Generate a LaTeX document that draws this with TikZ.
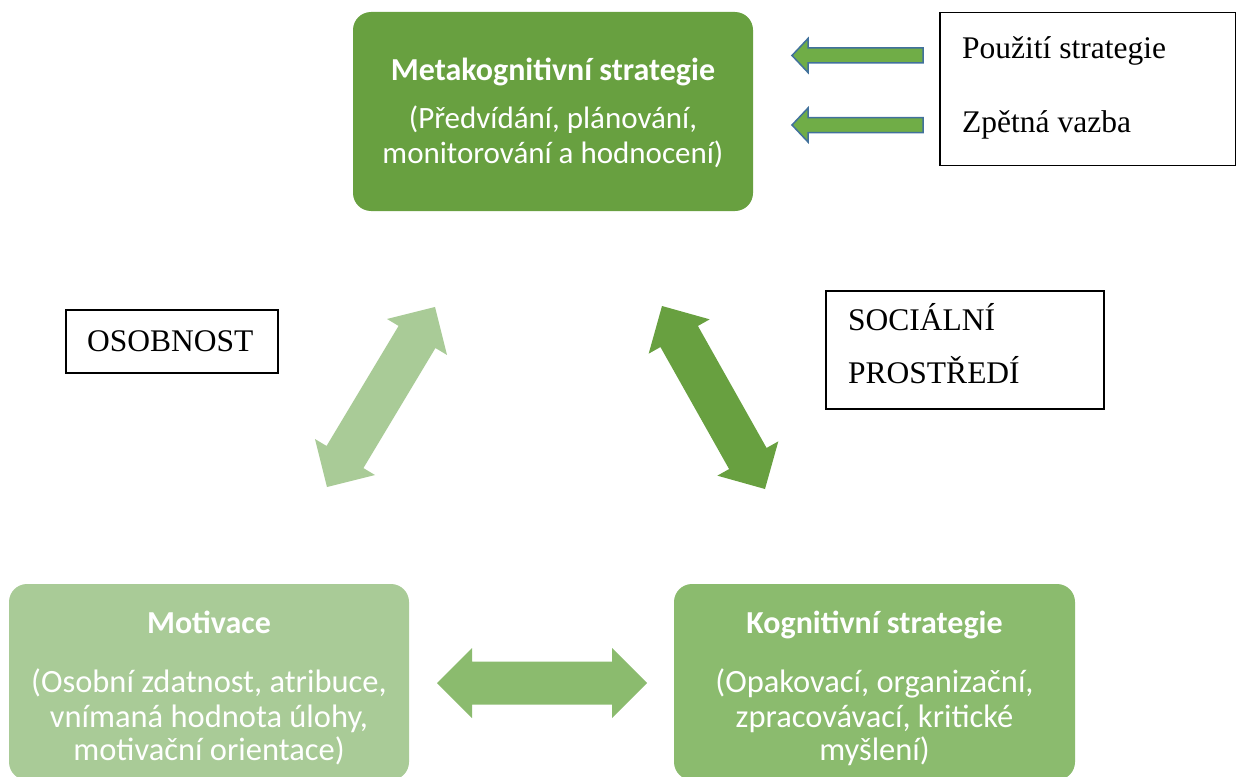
\documentclass[tikz,border=0pt]{standalone}
\usepackage{fontspec}
\setmainfont{Liberation Serif}
\newfontfamily\calibri{Carlito}
\definecolor{metagreen}{HTML}{68A040}
\definecolor{kogngreen}{HTML}{8BBB6E}
\definecolor{motivgreen}{HTML}{A9CB97}
\definecolor{smallfill}{HTML}{70AD47}
\definecolor{smalledge}{HTML}{41719C}
\tikzset{
  gbox/.style={rectangle, rounded corners=18pt, draw=none, inner sep=0pt},
  wtitle/.style={anchor=base, inner sep=0pt, text=white, font=\calibri\bfseries\fontsize{32}{36}\selectfont},
  wline/.style={anchor=base, inner sep=0pt, text=white, font=\calibri\fontsize{32.5}{36}\selectfont},
  wlinetop/.style={wline, font=\calibri\fontsize{31}{36}\selectfont},
  tbox/.style={rectangle, draw=black, line width=1.3pt, inner sep=0pt},
  tline/.style={anchor=base west, inner sep=0pt, font=\fontsize{31.5}{36}\selectfont},
}
% double block arrow centred at #1, turned by #2 degrees, filled with #3
\newcommand\dblblock[3]{%
  \begin{scope}[shift={(#1)}, rotate=#2]
    \fill[#3] (-105,0) -- (-70,35) -- (-70,21.5) -- (70,21.5) -- (70,35)
      -- (105,0) -- (70,-35) -- (70,-21.5) -- (-70,-21.5) -- (-70,-35) -- cycle;
  \end{scope}}
% small left-pointing block arrow with its tip at #1
\newcommand\leftblock[1]{%
  \begin{scope}[shift={(#1)}]
    \draw[fill=smallfill, draw=smalledge, line width=1.5pt, line join=miter]
      (0,0) -- (16,-17) -- (16,-7.5) -- (131,-7.5) -- (131,7.5) -- (16,7.5) -- (16,17) -- cycle;
  \end{scope}}
\begin{document}
\begin{tikzpicture}[x=1pt,y=-1pt]
\path[use as bounding box] (0,0) rectangle (1236,776);
\clip (0,0) rectangle (1236,776);

% three strategy boxes
\node[gbox, fill=metagreen, minimum width=400pt, minimum height=199pt] (meta) at (553,111.5) {};
\node[wtitle] (metaT) at (553,80) {Metakognitivní strategie};
\node[wlinetop] (meta1) at (553,128) {(Předvídání, plánování,};
\node[wlinetop] (meta2) at (553,163) {monitorování a hodnocení)};

\node[gbox, fill=motivgreen, minimum width=400pt, minimum height=196pt] (motiv) at (209,682) {};
\node[wtitle] (motivT) at (209,633) {Motivace};
\node[wline] (motiv1) at (209,692) {(Osobní zdatnost, atribuce,};
\node[wline] (motiv2) at (209,727) {vnímaná hodnota úlohy,};
\node[wline] (motiv3) at (209,760) {motivační orientace)};

\node[gbox, fill=kogngreen, minimum width=401pt, minimum height=196pt] (kogn) at (874.5,682) {};
\node[wtitle] (kognT) at (874.5,633) {Kognitivní strategie};
\node[wline] (kogn1) at (874.5,692) {(Opakovací, organizační,};
\node[wline] (kogn2) at (874.5,727) {zpracovávací, kritické};
\node[wline] (kogn3) at (874.5,760) {myšlení)};

% outlined text boxes
\node[tbox, minimum width=296pt, minimum height=153pt] (use) at (1088,89) {};
\node[tline] (useA) at (962,59) {Použití strategie};
\node[tline] (useB) at (962,132) {Zpětná vazba};

\node[tbox, minimum width=212pt, minimum height=63pt] (osob) at (172,341.5) {};
\node[tline] (osobT) at (87,351) {OSOBNOST};

\node[tbox, minimum width=278pt, minimum height=118pt] (soc) at (965,350) {};
\node[tline] (socA) at (848,330) {SOCIÁLNÍ};
\node[tline] (socB) at (848,383) {PROSTŘEDÍ};

% arrows into the metacognitive box
\coordinate (inA) at (792,55.5);
\coordinate (inB) at (792,125);
\leftblock{inA}
\leftblock{inB}

% links between the three boxes
\coordinate (linkL) at (381,397);
\coordinate (linkR) at (713.5,397.5);
\coordinate (linkB) at (542,683);
\dblblock{linkL}{59.04}{motivgreen}
\dblblock{linkR}{119.37}{metagreen}
\dblblock{linkB}{0}{kogngreen}
\end{tikzpicture}
\end{document}
